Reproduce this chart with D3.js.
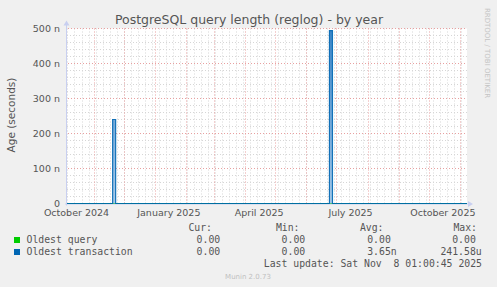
<!DOCTYPE html>
<html>
<head>
<meta charset="utf-8">
<script src="https://cdn.jsdelivr.net/npm/d3@7"></script>
<style>
  html, body { margin: 0; padding: 0; background: #f0f0f0; }
  svg { display: block; }
  .sans { font-family: "DejaVu Sans", sans-serif; }
  .mono { font-family: "DejaVu Sans Mono", monospace; white-space: pre; }
</style>
</head>
<body>
<div id="chart"></div>
<script>
// ---- data ----
const endTime = new Date(2025, 10, 8, 1, 0, 45)
const startTime = d3.timeDay.offset(endTime, -400)

const seriesNames = ["Oldest query", "Oldest transaction"]
const seriesColors = ["#00cc00", "#0066b3"]

const queryDates = ["2024-10-04", "2025-11-08"]
const queryValues = [0, 0]

// step series: value holds from the date until the next date
const transactionDates = ["2024-10-04", "2024-11-20", "2024-11-23", "2025-06-24", "2025-06-27", "2025-11-08"]
const transactionValues = [0, 240e-9, 0, 494e-9, 0, 0]

const yTicks = [0, 100e-9, 200e-9, 300e-9, 400e-9, 500e-9]

const legendHeaders = ["Cur:", "Min:", "Avg:", "Max:"]
const curValues = [0, 0]
const minValues = [0, 0]
const avgValues = [0, 3.65e-9]
const maxValues = [0, 241.58e-6]

const lastUpdate = "Last update: Sat Nov  8 01:00:45 2025"

// ---- layout ----
const W = 497, H = 287
const plotLeft = 67, plotRight = 467, plotTop = 28.5, plotBottom = 203.5

const parse = d3.timeParse("%Y-%m-%d")

const x = d3.scaleTime().domain([startTime, endTime]).range([65.5, plotRight])
const y = d3.scaleLinear().domain([0, 500e-9]).range([plotBottom, plotTop])

const svg = d3.select("#chart").append("svg")
    .attr("width", W).attr("height", H)

svg.append("rect").attr("width", W).attr("height", H).attr("fill", "#f0f0f0")

const defs = svg.append("defs")
defs.append("clipPath").attr("id", "plotclip")
  .append("rect").attr("x", plotLeft).attr("y", plotTop - 1)
    .attr("width", plotRight - plotLeft).attr("height", plotBottom - plotTop + 2)

const grad = defs.append("linearGradient").attr("id", "fillgrad")
    .attr("gradientUnits", "userSpaceOnUse")
    .attr("x1", 0).attr("x2", 0).attr("y1", plotTop).attr("y2", plotBottom)
grad.append("stop").attr("offset", "0%").attr("stop-color", "#3d86c8")
grad.append("stop").attr("offset", "100%").attr("stop-color", "#a9cbea")

// canvas
svg.append("rect")
    .attr("x", plotLeft).attr("y", plotTop)
    .attr("width", plotRight - plotLeft).attr("height", plotBottom - plotTop)
    .attr("fill", "#ffffff")

const grid = svg.append("g").attr("clip-path", "url(#plotclip)")

// minor grid
const weeks = d3.timeSunday.range(startTime, endTime)
grid.selectAll(".vminor").data(weeks).enter().append("line")
    .attr("x1", d => Math.round(x(d)) + 0.5).attr("x2", d => Math.round(x(d)) + 0.5)
    .attr("y1", plotTop).attr("y2", plotBottom)
    .attr("stroke", "#d6d6d6").attr("stroke-dasharray", "1,2")

const yMinor = d3.range(0, 501, 20).map(d => d * 1e-9).filter(d => !yTicks.some(t => Math.abs(t - d) < 1e-12))
grid.selectAll(".hminor").data(yMinor).enter().append("line")
    .attr("x1", plotLeft).attr("x2", plotRight)
    .attr("y1", d => y(d)).attr("y2", d => y(d))
    .attr("stroke", "#d6d6d6").attr("stroke-dasharray", "1,2")

// major grid
const months = d3.timeMonth.range(startTime, endTime)
grid.selectAll(".vmajor").data(months).enter().append("line")
    .attr("x1", d => Math.round(x(d)) + 0.5).attr("x2", d => Math.round(x(d)) + 0.5)
    .attr("y1", plotTop).attr("y2", plotBottom + 2)
    .attr("stroke", "#e8a0a0").attr("stroke-dasharray", "1,2")

grid.selectAll(".hmajor").data(yTicks.slice(1)).enter().append("line")
    .attr("x1", plotLeft - 2).attr("x2", plotRight)
    .attr("y1", d => y(d)).attr("y2", d => y(d))
    .attr("stroke", "#e8a0a0").attr("stroke-dasharray", "1,2")

// y tick labels
svg.append("g").selectAll("text").data(yTicks).enter().append("text")
    .attr("class", "sans")
    .attr("x", 60).attr("y", d => y(d) + 3.5)
    .attr("text-anchor", "end")
    .attr("font-size", "9.5px").attr("fill", "#555")
    .text(d => d === 0 ? "0" : Math.round(d * 1e9) + " n")

// x tick labels, every 3 months, centred half a month right of the month start
const labelMonths = d3.timeMonth.every(3).range(d3.timeMonth.floor(startTime), endTime)
svg.append("g").selectAll("text").data(labelMonths).enter().append("text")
    .attr("class", "sans")
    .attr("x", d => x(d3.timeDay.offset(d, 14)))
    .attr("y", 216)
    .attr("text-anchor", "middle")
    .attr("font-size", "9.5px").attr("fill", "#555")
    .text(d => d3.timeFormat("%B %Y")(d))

// series
const series = [
    {dates: queryDates, values: queryValues},
    {dates: transactionDates, values: transactionValues}
]

const line = d3.line()
    .x(d => x(d[0]))
    .y(d => y(d[1]))
    .curve(d3.curveStepAfter)

const area = d3.area()
    .x(d => x(d[0]))
    .y0(plotBottom)
    .y1(d => y(d[1]))
    .curve(d3.curveStepAfter)

// axes
svg.append("line").attr("x1", plotLeft - 0.5).attr("x2", plotLeft - 0.5)
    .attr("y1", plotTop - 4).attr("y2", plotBottom + 2)
    .attr("stroke", "#c8cff0")
svg.append("line").attr("x1", plotLeft - 2).attr("x2", plotRight + 2)
    .attr("y1", plotBottom + 0.5).attr("y2", plotBottom + 0.5)
    .attr("stroke", "#c8cff0")
svg.append("path")
    .attr("d", `M${plotLeft - 3.5},${plotTop - 3} L${plotLeft + 2.5},${plotTop - 3} L${plotLeft - 0.5},${plotTop - 8} Z`)
    .attr("fill", "#c8cff0")
svg.append("path")
    .attr("d", `M${plotRight + 1},${plotBottom - 2.5} L${plotRight + 1},${plotBottom + 3.5} L${plotRight + 6},${plotBottom + 0.5} Z`)
    .attr("fill", "#c8cff0")

const plot = svg.append("g").attr("clip-path", "url(#plotclip)")

series.forEach((s, i) => {
    const pts = s.dates.map((d, j) => [parse(d), s.values[j]])
    if (i === 1) {
        plot.append("path")
            .attr("d", area(pts))
            .attr("fill", "url(#fillgrad)")
    }
    plot.append("path")
        .attr("d", line(pts))
        .attr("fill", "none")
        .attr("stroke", seriesColors[i])
        .attr("stroke-width", 1.2)
        .attr("stroke-opacity", i === 1 ? 0.9 : 1)
})

// title
svg.append("text").attr("class", "sans")
    .attr("x", 249).attr("y", 24)
    .attr("text-anchor", "middle")
    .attr("font-size", "12.5px").attr("fill", "#555")
    .text("PostgreSQL query length (reglog) - by year")

// y axis title
svg.append("text").attr("class", "sans")
    .attr("transform", "translate(15,115) rotate(-90)")
    .attr("text-anchor", "middle")
    .attr("font-size", "10.5px").attr("fill", "#555")
    .text("Age (seconds)")

// watermark
svg.append("text").attr("class", "sans")
    .attr("transform", "translate(485,53) rotate(90)")
    .attr("text-anchor", "middle")
    .attr("font-size", "7px").attr("fill", "#c4c4c4")
    .text("RRDTOOL / TOBI OETIKER")

// legend
function fmt(v) {
    if (v === 0) return "  0.00 "
    const units = [[1e-9, "n"], [1e-6, "u"], [1e-3, "m"], [1, " "]]
    let u = units[0]
    units.forEach(p => { if (Math.abs(v) >= p[0]) u = p })
    return (v / u[0]).toFixed(2).padStart(6, " ") + u[1]
}

const headerX = [212, 299.5, 383.5, 477]
const colX = [184.8, 269.8, 355.4, 440.4]
const rowY = [242.5, 254.5]
const fs = "9.8px"

svg.append("g").selectAll("text").data(legendHeaders).enter().append("text")
    .attr("class", "mono")
    .attr("x", (d, i) => headerX[i]).attr("y", 230.5)
    .attr("text-anchor", "end")
    .attr("font-size", fs).attr("fill", "#555")
    .text(d => d)

const stats = [curValues, minValues, avgValues, maxValues]
seriesNames.forEach((name, i) => {
    svg.append("rect")
        .attr("x", 14).attr("y", rowY[i] - 5.5)
        .attr("width", 6).attr("height", 6)
        .attr("fill", seriesColors[i])
    svg.append("text").attr("class", "mono")
        .attr("x", 26.5).attr("y", rowY[i])
        .attr("font-size", fs).attr("fill", "#555")
        .text(name)
    stats.forEach((col, k) => {
        svg.append("text").attr("class", "mono")
            .attr("x", colX[k]).attr("y", rowY[i])
            .attr("font-size", fs).attr("fill", "#555")
            .text(fmt(col[i]))
    })
})

svg.append("text").attr("class", "mono")
    .attr("x", 482).attr("y", 266.5)
    .attr("text-anchor", "end")
    .attr("font-size", fs).attr("fill", "#555")
    .text(lastUpdate)

svg.append("text").attr("class", "sans")
    .attr("x", 248).attr("y", 279)
    .attr("text-anchor", "middle")
    .attr("font-size", "7px").attr("fill", "#c0c0c0")
    .text("Munin 2.0.73")
</script>
</body>
</html>
